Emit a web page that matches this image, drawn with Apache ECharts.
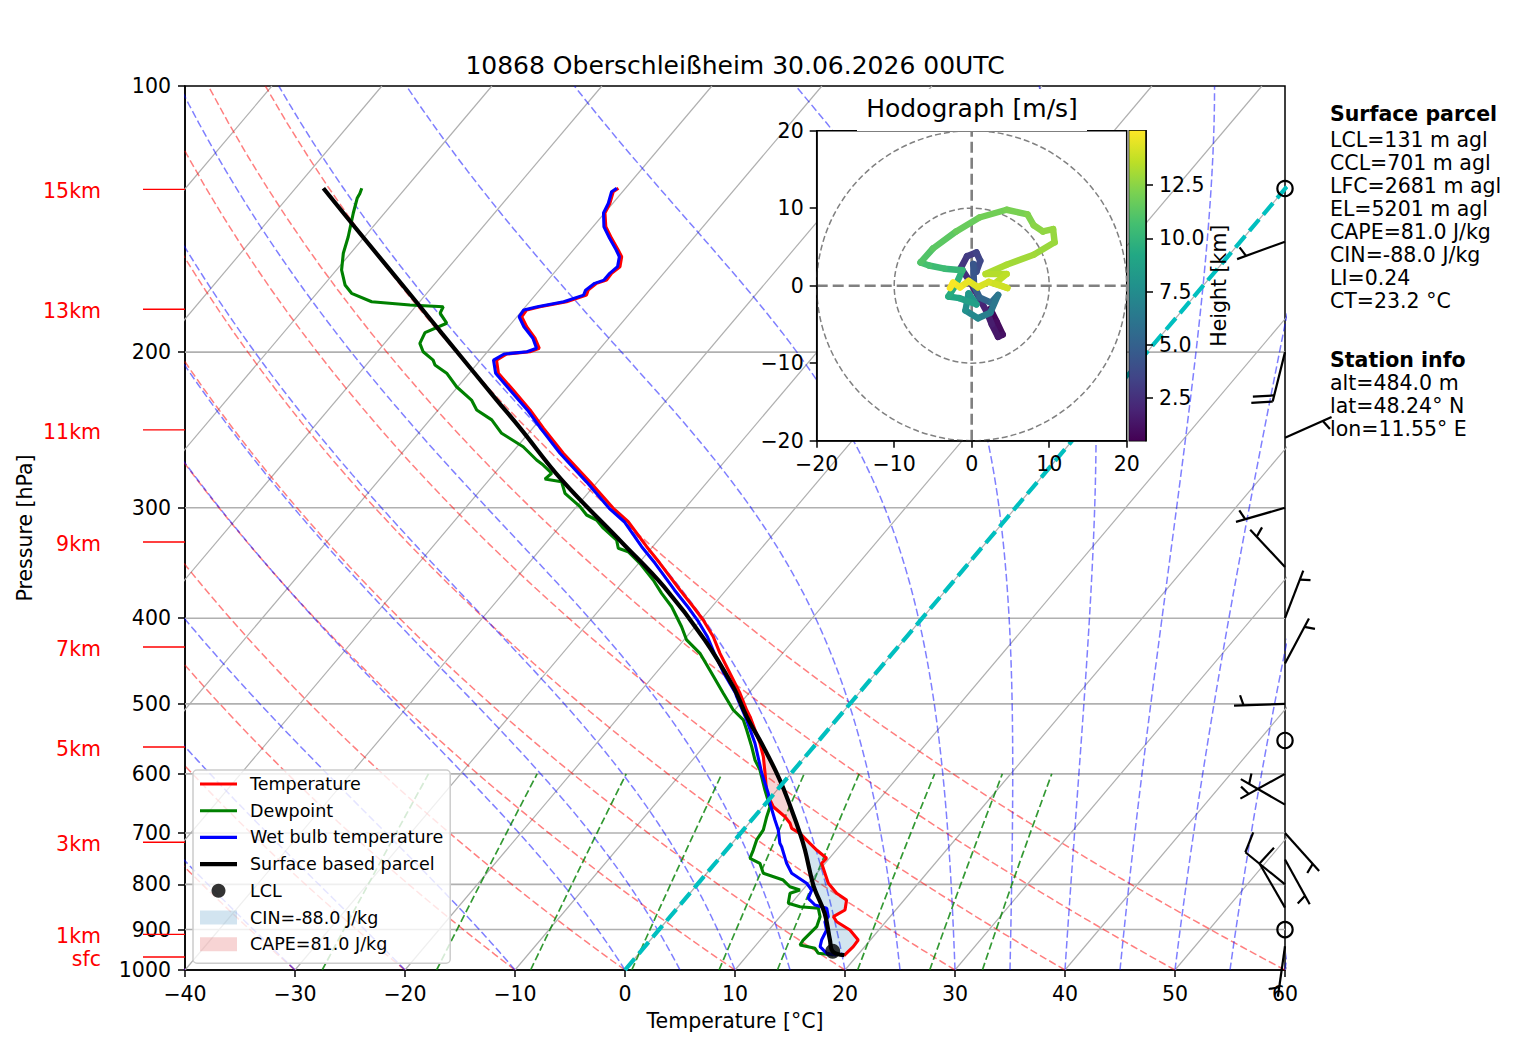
<!DOCTYPE html>
<html>
<head>
<meta charset="utf-8">
<script src="https://cdn.jsdelivr.net/npm/echarts@6/dist/echarts.min.js"></script>
<style>
  html, body { margin: 0; padding: 0; background: #fff; }
  #chart { width: 1517px; height: 1056px; }
</style>
</head>
<body>
<div id="chart"></div>
<script>
// sounding profiles, pressure [hPa] and temperature [°C]
const tempP = [963, 941.0, 924.9, 901.2, 881.9, 870.4, 855.3, 833.4, 818.9, 797.8, 757.4, 747.5, 731.7, 719.0, 700.5, 691.4, 682.3, 670.8, 653.6, 631.1, 599.0, 573.7, 554.0, 516.9, 508.0, 486.4, 461.7, 438.3, 419.8, 401.9, 388.2, 371.6, 346.7, 332.0, 311.1, 300.4, 280.4, 260.3, 243.8, 232.5, 220.8, 211.3, 204.2, 201.0, 199.8, 198.0, 192.9, 187.2, 182.4, 179.2, 177.7, 175.4, 172.4, 170.2, 167.2, 165.8, 162.9, 160.1, 156.0, 153.3, 148.7, 144.3, 139.2, 135.8, 131.7, 130.5];
const tempT = [18.8, 18.96, 18.90, 17.38, 15.54, 14.85, 15.39, 14.77, 13.35, 11.82, 9.68, 9.75, 8.21, 7.08, 5.41, 4.27, 3.73, 2.77, 0.94, -0.69, -2.38, -3.81, -5.15, -8.09, -8.91, -10.80, -13.25, -15.69, -17.57, -19.77, -21.70, -24.19, -28.06, -30.54, -34.14, -36.53, -40.69, -45.30, -49.04, -51.65, -54.71, -57.35, -58.53, -58.07, -56.14, -55.55, -56.71, -58.35, -59.57, -59.64, -58.68, -56.64, -55.34, -55.57, -55.33, -54.67, -54.73, -54.48, -55.09, -55.92, -57.42, -58.83, -59.97, -60.26, -60.85, -60.65];

const dewP = [961.7, 957.4, 945.2, 936.9, 924.9, 893.3, 870.4, 851.6, 848.0, 840.5, 818.9, 812.0, 805.1, 791.1, 777.4, 757.4, 747.5, 731.7, 712.7, 694.4, 670.8, 653.6, 625.8, 594.0, 578.6, 558.9, 535.2, 521.3, 508.0, 486.4, 461.7, 438.3, 423.3, 409.0, 388.2, 374.9, 362.1, 346.7, 336.4, 333.4, 326.3, 316.4, 309.7, 305.7, 299.1, 288.9, 280.4, 278.4, 274.2, 268.4, 264.9, 255.9, 247.1, 238.6, 232.5, 226.6, 218.9, 211.3, 206.8, 204.2, 199.8, 195.5, 190.1, 185.5, 180.7, 177.7, 176.9, 175.4, 171.6, 167.9, 161.5, 154.6, 148.1, 139.3, 134.0, 132.3, 130.5];
const dewT = [17.78, 16.29, 15.61, 13.99, 13.90, 14.10, 13.64, 12.84, 11.05, 9.72, 9.11, 9.76, 8.60, 7.47, 5.15, 4.07, 2.78, 2.45, 1.98, 1.82, 1.11, 0.64, -1.10, -3.09, -4.32, -5.64, -7.37, -8.45, -10.13, -12.32, -14.91, -17.51, -19.75, -21.22, -23.66, -25.60, -27.39, -29.88, -31.84, -33.00, -33.79, -35.90, -37.15, -38.44, -39.68, -42.07, -43.26, -44.99, -44.82, -46.22, -47.21, -49.45, -52.44, -54.37, -56.50, -57.73, -60.11, -62.05, -63.75, -64.29, -65.84, -66.78, -67.14, -65.89, -67.26, -67.47, -70.63, -74.36, -76.83, -78.07, -79.53, -80.66, -81.48, -82.83, -83.62, -83.75, -83.98];

const wetP = [962, 957.4, 941.0, 924.9, 901.2, 881.9, 870.4, 851.6, 844.3, 829.6, 812.0, 797.8, 777.4, 757.4, 725.3, 719.0, 694.4, 676.6, 647.7, 631.1, 599.0, 554.0, 521.3, 490.7, 486.4, 461.7, 438.3, 419.8, 401.9, 388.2, 371.6, 346.7, 332.0, 311.1, 300.4, 280.4, 260.3, 243.8, 232.5, 220.8, 211.3, 204.2, 201.0, 199.8, 198.0, 192.9, 187.2, 182.4, 179.2, 177.7, 175.4, 172.4, 170.2, 167.2, 165.8, 162.9, 160.1, 156.0, 153.3, 148.7, 144.3, 139.2, 135.8, 131.7, 130.5];
const wetT = [18.1, 17.05, 15.94, 15.57, 15.26, 14.47, 14.39, 13.60, 12.28, 11.15, 10.83, 9.85, 7.73, 6.50, 4.77, 4.35, 3.18, 2.11, 0.37, -0.55, -2.68, -5.60, -8.15, -10.84, -11.2, -13.8, -16.2, -18.1, -20.3, -22.2, -24.7, -28.5, -31.0, -34.5, -36.9, -41.0, -45.6, -49.3, -51.9, -55.0, -57.6, -58.8, -58.3, -56.4, -55.8, -56.9, -58.6, -59.8, -59.9, -58.9, -56.9, -55.6, -55.8, -55.5, -54.9, -54.9, -54.7, -55.3, -56.1, -57.6, -59.0, -60.1, -60.4, -61.0, -60.8];

const parcelP = [962, 952.6, 924.9, 862.8, 812.0, 791.1, 731.7, 700.5, 659.2, 609.7, 558.9, 516.9, 478.2, 423.3, 368.5, 329.0, 279.0, 243.8, 226.6, 190.5, 176.9, 144.3, 130.5];
const parcelT = [18.8, 17.45, 16.33, 13.8, 11.13, 10.08, 7.15, 5.41, 2.86, -0.51, -4.58, -8.39, -11.92, -18.1, -25.9, -33.0, -43.4, -51.15, -55.44, -65.54, -69.82, -81.67, -87.47];

const lclP = 952.6, lclT = 17.45;
const sfcP = 962, lfcP = 700.5, elP = 522;

// axis ticks and reference lines
const pTicks = [100, 200, 300, 400, 500, 600, 700, 800, 900, 1000];
const isotherms = [-100, -90, -80, -70, -60, -50, -40, -30, -20, -10, 0, 10, 20, 30, 40, 50, 60];
const dryStarts = [-40, -30, -20, -10, 0, 10, 20, 30, 40, 50, 60];
const moistStarts = [-40, -30, -20, -10, 0, 5, 10, 15, 20, 25, 30, 35, 40, 45, 50, 55, 60];
const mixRatios = [0.0004, 0.001, 0.002, 0.004, 0.007, 0.01, 0.016, 0.024, 0.032];

// height marks on the left
const heightText = ['15km', '13km', '11km', '9km', '7km', '5km', '3km', '1km', 'sfc'];
const heightP = [130.9, 178.9, 244.9, 328.0, 431.1, 559.4, 716.9, 911.3, 966.7];

// wind barbs: pressure, direction (deg), speed (kt)
const barbP = [130.6, 150, 200, 250, 300, 350, 400, 450, 500, 550, 600, 650, 700, 750, 800, 850, 900, 940];
const barbDir = [0, 250, 194, 66, 254, 317, 21, 28, 268, 0, 241, 300, 138, 151, 309, 330, 0, 188];
const barbSpd = [0, 5, 20, 5, 5, 5, 5, 5, 5, 0, 5, 5, 5, 5, 10, 10, 0, 5];

// hodograph: height [km], u, v [m/s]
const hodoH = [0.49, 0.8, 1.1, 1.3, 1.5, 1.8, 2.0, 2.3, 2.6, 2.9, 3.2, 3.5, 3.8, 4.2, 4.6, 5.0, 5.5, 6.0, 6.5, 7.0, 7.5, 8.0, 8.5, 9.0, 9.3, 9.6, 10.0, 10.3, 10.6, 10.9, 11.2, 11.5, 11.8, 12.0, 12.2, 12.4, 12.6, 12.7, 12.8, 12.9, 13.1, 13.3, 13.5, 13.7, 13.9, 14.1, 14.3, 14.5, 14.7, 14.9, 15.06];
const hodoU = [2.4, 3.2, 4.0, 3.4, 2.6, 2.0, 1.2, -0.2, -1.4, -0.6, 0.6, 1.1, 0.6, 0.2, 0.3, 1.0, 2.5, 3.4, 2.4, 0.8, -0.8, -0.4, 0.6, -1.6, -3.0, -2.0, -1.2, -3.5, -5.5, -6.6, -5.0, -2.0, 1.0, 4.5, 7.2, 8.0, 9.2, 10.5, 10.7, 8.0, 4.5, 1.8, 4.5, 3.0, 4.6, 2.2, 0.8, -0.4, -1.5, -2.4, -2.8];
const hodoV = [-3.0, -4.6, -6.3, -6.6, -5.0, -3.5, -2.0, 0.5, 2.3, 3.8, 4.3, 3.2, 1.8, 2.8, 0.0, -1.5, -2.2, -1.2, -3.5, -4.2, -3.2, -1.0, -2.4, -1.6, -1.4, 0.2, 2.0, 2.2, 2.6, 3.0, 4.8, 7.0, 8.8, 9.8, 9.2, 7.8, 7.0, 7.3, 5.6, 4.0, 2.7, 1.5, 1.5, 0.3, -0.3, 0.5, -0.2, 0.6, -0.2, 0.4, -0.3];
const hMin = 0.49, hMax = 15.06;
const cbTicks = [2.5, 5, 7.5, 10, 12.5];

const titleText = '10868 Oberschleißheim 30.06.2026 00UTC';
const parcelInfo = ['LCL=131 m agl', 'CCL=701 m agl', 'LFC=2681 m agl', 'EL=5201 m agl', 'CAPE=81.0 J/kg', 'CIN=-88.0 J/kg', 'LI=0.24', 'CT=23.2 °C'];
const stationInfo = ['alt=484.0 m', 'lat=48.24° N', 'lon=11.55° E'];

const FONT = '"DejaVu Sans", sans-serif';
const viridis = ['#440154', '#482475', '#414487', '#355f8d', '#2a788e', '#21918c', '#22a884', '#44bf70', '#7ad151', '#bddf26', '#fde725'];

// skew: shift in °C per decade of pressure
const SKEW = 67.9;
const sx = (t, p) => t + SKEW * Math.log10(1000 / p);
const pts = (ps, ts) => ps.map((p, i) => [sx(ts[i], p), p]);
const minus = v => (v < 0 ? '\u2212' + Math.abs(v) : String(v));

const Rd = 287.04749, Cp = 1004.6662, Lv = 2.50084e6, EPS = 0.6219569;

function dryAdiabat(t0) {
  const out = [];
  for (let p = 1000; p >= 100; p -= 10) {
    const t = (t0 + 273.15) * Math.pow(p / 1000, Rd / Cp) - 273.15;
    out.push([sx(t, p), p]);
  }
  return out;
}

function dTdp(T, p) {
  const es = 6.112 * Math.exp(17.67 * (T - 273.15) / (T - 29.65));
  const rs = EPS * es / (p - es);
  return (Rd * T + Lv * rs) / (Cp + Lv * Lv * rs * EPS / (Rd * T * T)) / p;
}

function moistAdiabat(t0) {
  let T = t0 + 273.15, p = 1000;
  const h = -5;
  const out = [[sx(t0, p), p]];
  while (p > 100.01) {
    const k1 = dTdp(T, p);
    const k2 = dTdp(T + h / 2 * k1, p + h / 2);
    const k3 = dTdp(T + h / 2 * k2, p + h / 2);
    const k4 = dTdp(T + h * k3, p + h);
    T += h / 6 * (k1 + 2 * k2 + 2 * k3 + k4);
    p += h;
    out.push([sx(T - 273.15, p), p]);
  }
  return out;
}

function mixLine(w) {
  const out = [];
  for (let p = 1000; p >= 600; p -= 20) {
    const l = Math.log(p * w / (EPS + w) / 6.112);
    const td = 243.5 * l / (17.67 - l);
    out.push([sx(td, p), p]);
  }
  return out;
}

function interpT(ps, ts, p) {
  for (let i = 0; i < ps.length - 1; i++) {
    const a = ps[i], b = ps[i + 1];
    if (a >= p && p >= b) {
      const f = (Math.log(a) - Math.log(p)) / (Math.log(a) - Math.log(b));
      return ts[i] + f * (ts[i + 1] - ts[i]);
    }
  }
  return null;
}

// polygon between environment and parcel from pBot up to pTop
function band(pBot, pTop) {
  const levels = [pBot, pTop];
  tempP.concat(parcelP).forEach(p => { if (p < pBot && p > pTop) levels.push(p); });
  levels.sort((a, b) => b - a);
  const env = levels.map(p => [sx(interpT(tempP, tempT, p), p), p]);
  const par = levels.map(p => [sx(interpT(parcelP, parcelT, p), p), p]).reverse();
  return env.concat(par);
}

function hexRgb(h) {
  return [1, 3, 5].map(k => parseInt(h.slice(k, k + 2), 16));
}
function cmap(t) {
  t = Math.max(0, Math.min(1, t));
  const x = t * (viridis.length - 1);
  const i = Math.min(Math.floor(x), viridis.length - 2);
  const f = x - i;
  const a = hexRgb(viridis[i]), b = hexRgb(viridis[i + 1]);
  return 'rgb(' + a.map((v, k) => Math.round(v + f * (b[k] - v))).join(',') + ')';
}

function bgLine(data, color, width, type, z) {
  return {
    type: 'line', data, xAxisIndex: 0, yAxisIndex: 0, symbol: 'none', silent: true,
    lineStyle: { color, width, type }, z: z || 1
  };
}

const series = [];

// horizontal pressure lines and skewed isotherms
pTicks.slice(1, -1).forEach(p => series.push(bgLine([[-40, p], [60, p]], '#b0b0b0', 1.6, 'solid')));
isotherms.forEach(t => series.push(bgLine([[sx(t, 1000), 1000], [sx(t, 100), 100]], '#b0b0b0', 1.2, 'solid')));
dryStarts.forEach(t => series.push(bgLine(dryAdiabat(t), 'rgba(255,0,0,0.5)', 1.5, [7.5, 3.3])));
moistStarts.forEach(t => series.push(bgLine(moistAdiabat(t), 'rgba(0,0,255,0.5)', 1.5, [7.5, 3.3])));
mixRatios.forEach(w => series.push(bgLine(mixLine(w), 'rgba(0,128,0,0.8)', 1.7, [7.5, 3.3])));

// CIN / CAPE shading
function fill(name, color, poly) {
  return {
    name, type: 'custom', xAxisIndex: 0, yAxisIndex: 0, silent: true, z: 2,
    itemStyle: { color },
    data: [poly[0]],
    renderItem: (params, api) => ({
      type: 'polygon',
      shape: { points: poly.map(d => api.coord(d)) },
      style: { fill: color }
    })
  };
}
series.push(fill('CIN=-88.0 J/kg', 'rgba(31,119,180,0.2)', band(sfcP, lfcP)));
series.push(fill('CAPE=81.0 J/kg', 'rgba(214,39,40,0.2)', band(lfcP, elP)));

function profile(name, data, color, width, smooth) {
  return {
    name, type: 'line', data, xAxisIndex: 0, yAxisIndex: 0, symbol: 'none', silent: true,
    color, smooth: smooth || false, lineStyle: { color, width }, z: 3
  };
}
series.push(profile('Temperature', pts(tempP, tempT), '#ff0000', 3.1));
series.push(profile('Dewpoint', pts(dewP, dewT), '#008000', 3.1));
series.push(profile('Wet bulb temperature', pts(wetP, wetT), '#0000ff', 3.1));
series.push(profile('Surface based parcel', pts(parcelP, parcelT), '#000000', 4.2, 0.4));

// 0 °C isotherm
series.push(bgLine([[sx(0, 1000), 1000], [sx(0, 100), 100]], '#00bfbf', 4.2, [15, 6.5], 4));

series.push({
  name: 'LCL', type: 'scatter', xAxisIndex: 0, yAxisIndex: 0, silent: true, z: 5,
  data: [[sx(lclT, lclP), lclP]], symbol: 'circle', symbolSize: 15, itemStyle: { color: '#000' }, color: '#000'
});

// height marks
series.push({
  type: 'custom', xAxisIndex: 0, yAxisIndex: 0, silent: true, clip: false, z: 5,
  data: heightP.map((p, i) => [-40, p, i]),
  renderItem: (params, api) => {
    const c = api.coord([-40, api.value(1)]);
    return {
      type: 'group',
      children: [
        { type: 'line', shape: { x1: c[0] - 42, y1: c[1], x2: c[0], y2: c[1] }, style: { stroke: '#ff0000', lineWidth: 1.4 } },
        { type: 'text', x: c[0] - 84, y: c[1] + 2, style: { text: heightText[api.value(2)], fill: '#ff0000', font: '20.5px ' + FONT, align: 'right', verticalAlign: 'middle' } }
      ]
    };
  }
});

// wind barbs on the right edge
const L = 51;
series.push({
  type: 'custom', xAxisIndex: 0, yAxisIndex: 0, silent: true, clip: false, z: 6,
  data: barbP.map((p, i) => [60, p, i]),
  renderItem: (params, api) => {
    const i = api.value(2);
    const c = api.coord([60, api.value(1)]);
    const st = { stroke: '#000', lineWidth: 2.2, fill: 'none' };
    if (barbSpd[i] < 5) {
      return { type: 'circle', shape: { cx: c[0], cy: c[1], r: 0.15 * L }, style: st };
    }
    const d = barbDir[i] * Math.PI / 180;
    const s = [Math.sin(d), -Math.cos(d)], r = [Math.cos(d), Math.sin(d)];
    const at = (along, side) => [c[0] + along * s[0] + side * r[0], c[1] + along * s[1] + side * r[1]];
    const kids = [{ type: 'line', shape: { x1: c[0], y1: c[1], x2: at(L, 0)[0], y2: at(L, 0)[1] }, style: st }];
    const sp = 0.125 * L;
    const nFull = Math.floor(barbSpd[i] / 10);
    let off = L;
    for (let k = 0; k < nFull; k++) {
      const a = at(off, 0), b = at(off + sp, 0.4 * L);
      kids.push({ type: 'line', shape: { x1: a[0], y1: a[1], x2: b[0], y2: b[1] }, style: st });
      off -= sp;
    }
    if (barbSpd[i] % 10 >= 5) {
      if (nFull === 0) off = L - 1.5 * sp;
      const a = at(off, 0), b = at(off + sp / 2, 0.2 * L);
      kids.push({ type: 'line', shape: { x1: a[0], y1: a[1], x2: b[0], y2: b[1] }, style: st });
    }
    return { type: 'group', children: kids };
  }
});

// hodograph
series.push({
  type: 'line', xAxisIndex: 1, yAxisIndex: 1, symbol: 'none', silent: true, z: 52,
  data: [[-20, 0], [20, 0]], lineStyle: { color: '#808080', width: 2.6, type: [11, 5] }
});
series.push({
  type: 'line', xAxisIndex: 1, yAxisIndex: 1, symbol: 'none', silent: true, z: 52,
  data: [[0, -20], [0, 20]], lineStyle: { color: '#808080', width: 2.6, type: [11, 5] }
});
series.push({
  type: 'custom', xAxisIndex: 1, yAxisIndex: 1, silent: true, z: 52,
  data: [[0, 0, 10], [0, 0, 20]],
  renderItem: (params, api) => {
    const c = api.coord([0, 0]);
    const rr = api.size([api.value(2), 0])[0];
    return { type: 'circle', shape: { cx: c[0], cy: c[1], r: rr }, style: { fill: 'none', stroke: '#808080', lineWidth: 1.5, lineDash: [6, 3] } };
  }
});
series.push({
  type: 'custom', xAxisIndex: 1, yAxisIndex: 1, silent: true, z: 53,
  data: hodoU.map((u, i) => [u, hodoV[i], i]),
  renderItem: (params, api) => {
    const i = api.value(2);
    if (i >= hodoU.length - 1) return null;
    const a = api.coord([hodoU[i], hodoV[i]]);
    const b = api.coord([hodoU[i + 1], hodoV[i + 1]]);
    const col = cmap(((hodoH[i] + hodoH[i + 1]) / 2 - hMin) / (hMax - hMin));
    return { type: 'line', shape: { x1: a[0], y1: a[1], x2: b[0], y2: b[1] }, style: { stroke: col, lineWidth: 6.5, lineCap: 'round' } };
  }
});

// colorbar
series.push({
  type: 'custom', xAxisIndex: 2, yAxisIndex: 2, silent: true, z: 52,
  data: [[0.5, (hMin + hMax) / 2]],
  renderItem: (params, api) => {
    const a = api.coord([0, hMax]), b = api.coord([1, hMin]);
    return {
      type: 'rect',
      shape: { x: a[0], y: a[1], width: b[0] - a[0], height: b[1] - a[1] },
      style: { fill: new echarts.graphic.LinearGradient(0, 1, 0, 0, viridis.map((c, k) => ({ offset: k / (viridis.length - 1), color: c }))) }
    };
  }
});

const axisBase = {
  axisLine: { onZero: false, lineStyle: { color: '#000', width: 1.5 } },
  axisTick: { length: 7, lineStyle: { color: '#000', width: 1.5 } },
  splitLine: { show: false },
  nameTextStyle: { fontSize: 20.5, fontFamily: FONT, color: '#000' }
};
const labelBase = { fontSize: 20.5, fontFamily: FONT, color: '#000' };

const barIcon = h => 'path://M0,0H37V' + h + 'H0Z';

const option = {
  animation: false,
  backgroundColor: '#ffffff',
  textStyle: { fontFamily: FONT },
  grid: [
    { left: 185, top: 86, width: 1100, height: 884, show: true, borderColor: '#000', borderWidth: 1.5, backgroundColor: 'transparent', z: 0 },
    { left: 816.7, top: 130.7, width: 310, height: 310, show: true, borderColor: '#000', borderWidth: 1.5, backgroundColor: '#ffffff', z: 50 },
    { left: 1129.3, top: 130.7, width: 16.7, height: 310, show: true, borderColor: '#000', borderWidth: 1.5, backgroundColor: 'transparent', z: 51 }
  ],
  xAxis: [
    Object.assign({}, axisBase, {
      type: 'value', gridIndex: 0, min: -40, max: 60, interval: 10,
      name: 'Temperature [°C]', nameLocation: 'middle', nameGap: 40,
      axisLabel: Object.assign({ margin: 13, formatter: minus }, labelBase)
    }),
    Object.assign({}, axisBase, {
      type: 'value', gridIndex: 1, min: -20, max: 20, interval: 10, z: 54,
      axisLabel: Object.assign({ margin: 13, formatter: minus }, labelBase)
    }),
    { type: 'value', gridIndex: 2, min: 0, max: 1, show: false }
  ],
  yAxis: [
    Object.assign({}, axisBase, {
      type: 'log', logBase: 10, gridIndex: 0, min: 100, max: 1000, inverse: true,
      name: 'Pressure [hPa]', nameLocation: 'middle', nameGap: 150, nameRotate: 90,
      axisTick: { length: 7, lineStyle: { color: '#000', width: 1.5 }, customValues: pTicks },
      axisLabel: Object.assign({ margin: 14, customValues: pTicks, formatter: v => String(Math.round(v)) }, labelBase),
      minorTick: { show: false }, minorSplitLine: { show: false }
    }),
    Object.assign({}, axisBase, {
      type: 'value', gridIndex: 1, min: -20, max: 20, interval: 10, z: 54,
      axisLabel: Object.assign({ margin: 13, formatter: minus }, labelBase)
    }),
    Object.assign({}, axisBase, {
      type: 'value', gridIndex: 2, position: 'right', min: hMin, max: hMax, z: 54,
      name: 'Height [km]', nameLocation: 'middle', nameGap: 42, nameRotate: 90,
      axisTick: { length: 7, lineStyle: { color: '#000', width: 1.5 }, customValues: cbTicks },
      axisLabel: Object.assign({ margin: 13, customValues: cbTicks, formatter: v => v.toFixed(1) }, labelBase)
    })
  ],
  legend: {
    left: 193, top: 770, orient: 'vertical', z: 20,
    padding: [5, 7, 10, 7], itemGap: 8.7, itemWidth: 37, itemHeight: 14,
    backgroundColor: 'rgba(255,255,255,0.8)', borderColor: '#cccccc', borderWidth: 1.5, borderRadius: 4,
    selectedMode: false,
    textStyle: { fontSize: 17.5, fontFamily: FONT, color: '#000', padding: [0, 0, 0, 8] },
    data: [
      { name: 'Temperature', icon: barIcon(3.1) },
      { name: 'Dewpoint', icon: barIcon(3.1) },
      { name: 'Wet bulb temperature', icon: barIcon(3.1) },
      { name: 'Surface based parcel', icon: barIcon(4.2) },
      { name: 'LCL', icon: 'circle' },
      { name: 'CIN=-88.0 J/kg', icon: 'rect' },
      { name: 'CAPE=81.0 J/kg', icon: 'rect' }
    ]
  },
  graphic: {
    elements: [
      { type: 'text', x: 735, y: 65, z: 100, style: { text: titleText, font: '25px ' + FONT, fill: '#000', align: 'center', verticalAlign: 'middle' } },
      { type: 'rect', z: 100, shape: { x: 857, y: 89, width: 230, height: 42 }, style: { fill: '#ffffff' } },
      { type: 'text', x: 972, y: 108, z: 101, style: { text: 'Hodograph [m/s]', font: '25px ' + FONT, fill: '#000', align: 'center', verticalAlign: 'middle' } },
      { type: 'text', x: 1330, y: 114, z: 100, style: { text: 'Surface parcel', font: 'bold 20.5px ' + FONT, fill: '#000', align: 'left', verticalAlign: 'middle' } }
    ].concat(
      parcelInfo.map((t, i) => ({ type: 'text', x: 1330, y: 140 + i * 23, z: 100, style: { text: t, font: '20.5px ' + FONT, fill: '#000', align: 'left', verticalAlign: 'middle' } })),
      [{ type: 'text', x: 1330, y: 360, z: 100, style: { text: 'Station info', font: 'bold 20.5px ' + FONT, fill: '#000', align: 'left', verticalAlign: 'middle' } }],
      stationInfo.map((t, i) => ({ type: 'text', x: 1330, y: 383.3 + i * 23, z: 100, style: { text: t, font: '20.5px ' + FONT, fill: '#000', align: 'left', verticalAlign: 'middle' } }))
    )
  },
  series
};

const chart = echarts.init(document.getElementById('chart'), null, { renderer: 'svg' });
chart.setOption(option);
</script>
</body>
</html>
